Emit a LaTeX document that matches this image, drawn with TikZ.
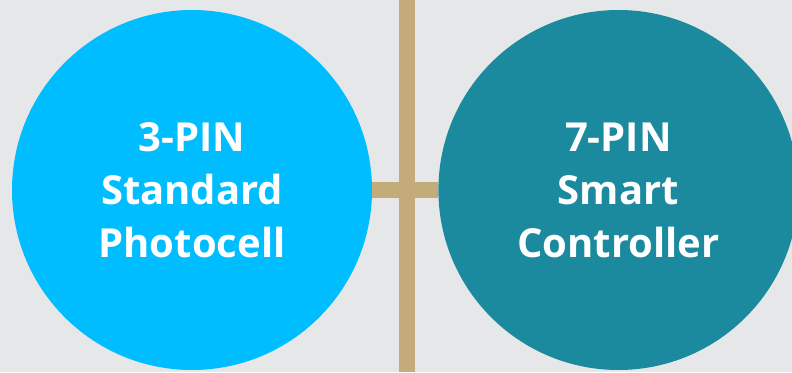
\documentclass[tikz,border=0pt]{standalone}
\usepackage{fontspec}
\setmainfont{Open Sans}
\usepackage{xcolor}
\usepackage{tikz}
\usetikzlibrary{positioning}
\definecolor{bgGray}{HTML}{E6E7E8}
\definecolor{skyBlue}{HTML}{00BDFF}
\definecolor{tealBlue}{HTML}{1B8A9E}
\definecolor{tanBar}{HTML}{C4AB7A}

\begin{document}
\begin{tikzpicture}[
  x=1pt, y=1pt,
  pinbox/.style={circle, minimum size=360pt, inner sep=0pt,
              align=center, text=white,
              font=\fontsize{40}{53}\selectfont\bfseries},
  barline/.style={draw=tanBar, line width=15.5pt}
]
  % Background
  \fill[bgGray] (0,0) rectangle (792,372);
  \useasboundingbox (0,0) rectangle (792,372);

  % Vertical divider
  \coordinate (top) at (407,372);
  \coordinate (bottom) at (407,0);
  \draw[barline] (top) -- (bottom);

  % Circles
  \node[pinbox, fill=skyBlue] (three) at (192,182)
    {3-PIN\\Standard\\Photocell};
  \node[pinbox, fill=tealBlue, right=66pt of three] (seven)
    {7-PIN\\Smart\\Controller};

  % Link between the circles
  \draw[barline] (three) -- (seven);
\end{tikzpicture}
\end{document}
